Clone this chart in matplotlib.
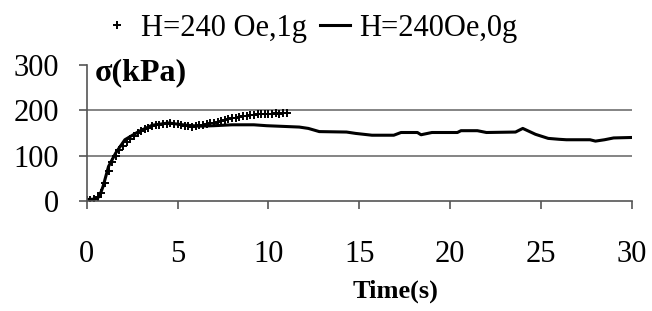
import numpy as np
import matplotlib
matplotlib.use("Agg")
import matplotlib.pyplot as plt

plt.rcParams['font.family'] = ['Liberation Serif', 'DejaVu Serif']

# H=240 Oe, 1g  (plus markers)
t_1g = [0.0, 0.2, 0.4, 0.6, 0.8, 1.0, 1.2, 1.4, 1.6, 1.8, 2.0, 2.2, 2.4, 2.6, 2.8,
        3.0, 3.2, 3.4, 3.6, 3.8, 4.0, 4.2, 4.4, 4.6, 4.8, 5.0, 5.2, 5.4, 5.6, 5.8,
        6.0, 6.2, 6.4, 6.6, 6.8, 7.0, 7.2, 7.4, 7.6, 7.8, 8.0, 8.2, 8.4, 8.6, 8.8,
        9.0, 9.2, 9.4, 9.6, 9.8, 10.0, 10.2, 10.4, 10.6, 10.8, 11.0]
s_1g = [2, 3, 5, 8, 18, 40, 65, 85, 100, 112, 122, 130, 137, 143, 149,
        154, 158, 162, 165, 167, 168, 169, 170, 171, 170, 169, 168, 166, 165, 164,
        165, 167, 168, 170, 172, 173, 175, 177, 178, 180, 182, 184, 185, 187, 188,
        189, 190, 191, 191, 192, 192, 192, 193, 192, 193, 193]

# H=240 Oe, 0g  (solid line)
t_0g = [0, 0.5, 0.7, 0.9, 1.2, 1.6, 2.1, 2.9, 3.6, 4.5, 5.5, 6.2, 7, 8, 9.2, 9.9,
        10.5, 11.7, 12.2, 12.8, 14.3, 14.8, 15.7, 16.9, 17.3, 18.2, 18.4, 19,
        20.4, 20.6, 21.5, 22, 23.6, 24.0, 24.7, 25.4, 26.0, 26.4, 27.7, 28.0,
        28.5, 29, 30]
s_0g = [3, 4, 10, 32, 76, 106, 135, 154, 167, 172, 167, 165, 166, 168, 168, 166,
        165, 163, 160, 153, 152, 149, 145, 145, 151, 151, 146, 151,
        151, 155, 155, 151, 152, 160, 147, 138, 136, 135, 135, 132,
        135, 139, 140]

fig = plt.figure(figsize=(6.52, 3.11), dpi=100)
ax = fig.add_axes([0.133, 0.354, 0.836, 0.437])

ax.plot(t_1g, s_1g, linestyle='none', marker='+', color='black', markersize=6,
        markeredgewidth=1.4, label="H=240 Oe,1g")
ax.plot(t_0g, s_0g, color='black', linewidth=2.2, label="H=240Oe,0g")

ax.set_xlim(0, 30)
ax.set_ylim(0, 300)
ax.set_xticks([0, 5, 10, 15, 20, 25, 30])
ax.set_yticks([0, 100, 200, 300])
for yv in [100, 200]:
    ax.axhline(yv, color='#707070', linewidth=1.2, zorder=0)

for s in ['top', 'right']:
    ax.spines[s].set_visible(False)
for s in ['left', 'bottom']:
    ax.spines[s].set_color('#555555')
    ax.spines[s].set_linewidth(1.2)
ax.tick_params(axis='both', direction='out', length=6, width=1.2, color='#555555',
               labelsize=22)
ax.tick_params(axis='x', pad=22)
ax.tick_params(axis='y', pad=14)

ax.text(0.45, 283, "σ(kPa)", fontsize=23, fontweight='bold', va='center', ha='left')
fig.text(0.606, 0.062, "Time(s)", fontsize=19, fontweight='bold', ha='center', va='center')

fig.legend(loc='upper center', bbox_to_anchor=(0.475, 1.045), ncol=2, frameon=False,
           fontsize=22, handlelength=1.0, handletextpad=0.3, columnspacing=0.4,
           markerscale=0.9)

fig.savefig("out.png", dpi=100)
